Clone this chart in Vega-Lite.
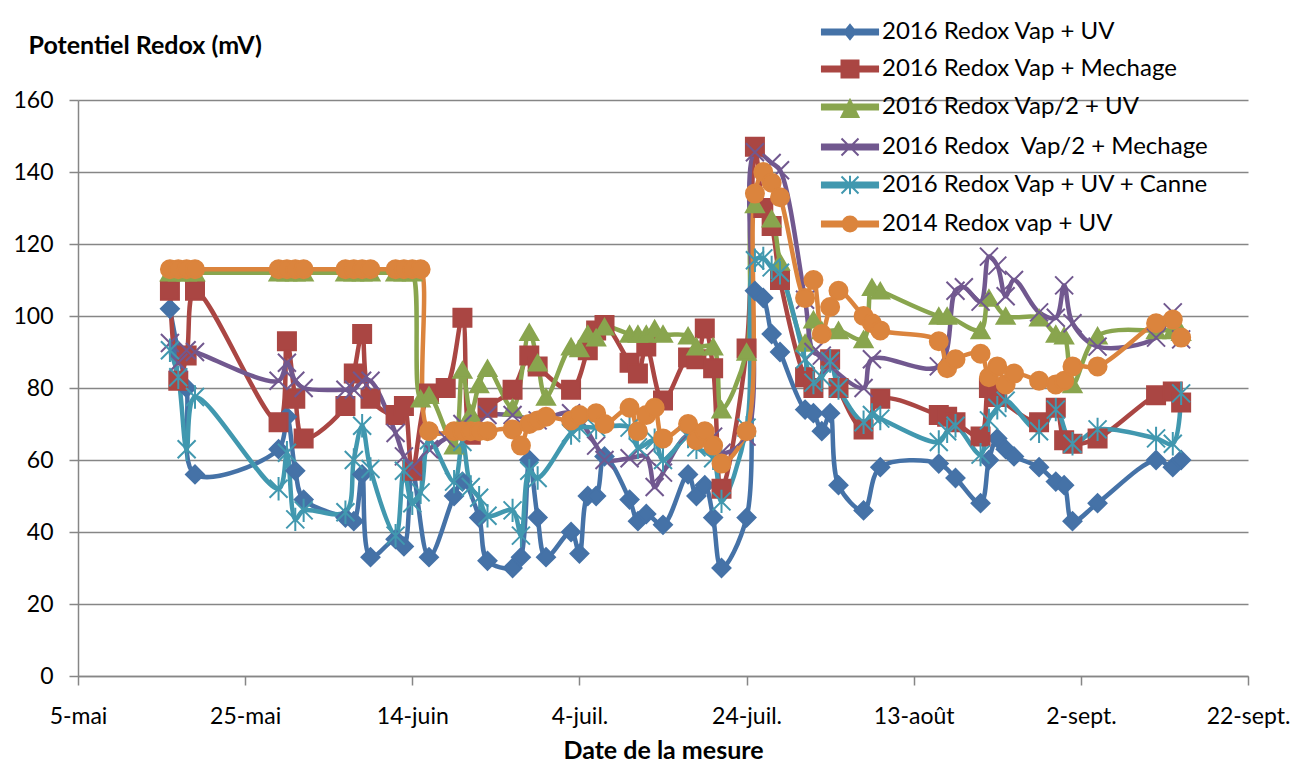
{
"$schema": "https://vega.github.io/schema/vega-lite/v6.json",
"width": 1170, "height": 576,
"autosize": {"type": "none"},
"padding": {"left": 78, "top": 100, "right": 66, "bottom": 93},
"background": "white",
"config": {
  "font": "Lato",
  "view": {"stroke": null},
  "axis": {"labelFont": "Lato", "labelFontSize": 23, "labelColor": "black", "domainColor": "#868686", "domainWidth": 1.5, "tickColor": "#868686", "tickWidth": 1.5, "tickSize": 9, "gridColor": "#868686", "gridWidth": 1.5, "titleFont": "Lato", "titleFontWeight": "bold", "titleFontSize": 25, "titleColor": "black"},
  "legend": {"labelFont": "Lato", "labelFontSize": 24, "labelColor": "black", "labelLimit": 0, "padding": 0, "rowPadding": 7, "symbolSize": 1156, "symbolStrokeWidth": 2, "symbolOpacity": 1, "labelOffset": 14}
},
"data": {"values": [
{"s":"A","d":"2016-05-16T00:00","v":102},{"s":"A","d":"2016-05-17T00:00","v":90},{"s":"A","d":"2016-05-18T00:00","v":80},{"s":"A","d":"2016-05-19T00:00","v":56},{"s":"A","d":"2016-05-29T00:00","v":63},{"s":"A","d":"2016-05-30T00:00","v":72},{"s":"A","d":"2016-05-31T00:00","v":57},{"s":"A","d":"2016-06-01T00:00","v":49},{"s":"A","d":"2016-06-06T00:00","v":44},{"s":"A","d":"2016-06-07T00:00","v":43},{"s":"A","d":"2016-06-08T00:00","v":56},{"s":"A","d":"2016-06-09T00:00","v":33},{"s":"A","d":"2016-06-12T00:00","v":38},{"s":"A","d":"2016-06-13T00:00","v":36},{"s":"A","d":"2016-06-14T00:00","v":57},{"s":"A","d":"2016-06-16T00:00","v":33},{"s":"A","d":"2016-06-19T00:00","v":50},{"s":"A","d":"2016-06-20T00:00","v":54},{"s":"A","d":"2016-06-22T00:00","v":44},{"s":"A","d":"2016-06-23T00:00","v":32},{"s":"A","d":"2016-06-26T00:00","v":30},{"s":"A","d":"2016-06-27T00:00","v":33},{"s":"A","d":"2016-06-28T00:00","v":60},{"s":"A","d":"2016-06-29T00:00","v":44},{"s":"A","d":"2016-06-30T00:00","v":33},{"s":"A","d":"2016-07-03T00:00","v":40},{"s":"A","d":"2016-07-04T00:00","v":34},{"s":"A","d":"2016-07-05T00:00","v":50},{"s":"A","d":"2016-07-06T00:00","v":50},{"s":"A","d":"2016-07-07T00:00","v":61},{"s":"A","d":"2016-07-10T00:00","v":49},{"s":"A","d":"2016-07-11T00:00","v":43},{"s":"A","d":"2016-07-12T00:00","v":45},{"s":"A","d":"2016-07-14T00:00","v":42},{"s":"A","d":"2016-07-17T00:00","v":56},{"s":"A","d":"2016-07-18T00:00","v":50},{"s":"A","d":"2016-07-19T00:00","v":53},{"s":"A","d":"2016-07-20T00:00","v":44},{"s":"A","d":"2016-07-21T00:00","v":30},{"s":"A","d":"2016-07-24T00:00","v":44},{"s":"A","d":"2016-07-25T00:00","v":107},{"s":"A","d":"2016-07-26T00:00","v":105},{"s":"A","d":"2016-07-27T00:00","v":95},{"s":"A","d":"2016-07-28T00:00","v":90},{"s":"A","d":"2016-07-31T00:00","v":74},{"s":"A","d":"2016-08-01T00:00","v":73},{"s":"A","d":"2016-08-02T00:00","v":68},{"s":"A","d":"2016-08-03T00:00","v":73},{"s":"A","d":"2016-08-04T00:00","v":53},{"s":"A","d":"2016-08-07T00:00","v":46},{"s":"A","d":"2016-08-09T00:00","v":58},{"s":"A","d":"2016-08-16T00:00","v":59},{"s":"A","d":"2016-08-18T00:00","v":55},{"s":"A","d":"2016-08-21T00:00","v":48},{"s":"A","d":"2016-08-22T00:00","v":60},{"s":"A","d":"2016-08-23T00:00","v":66},{"s":"A","d":"2016-08-24T00:00","v":63},{"s":"A","d":"2016-08-25T00:00","v":61},{"s":"A","d":"2016-08-28T00:00","v":58},{"s":"A","d":"2016-08-30T00:00","v":54},{"s":"A","d":"2016-08-31T00:00","v":53},{"s":"A","d":"2016-09-01T00:00","v":43},{"s":"A","d":"2016-09-04T00:00","v":48},{"s":"A","d":"2016-09-11T00:00","v":60},{"s":"A","d":"2016-09-13T00:00","v":58},{"s":"A","d":"2016-09-14T00:00","v":60},
{"s":"B","d":"2016-05-16T00:00","v":107},{"s":"B","d":"2016-05-17T00:00","v":82},{"s":"B","d":"2016-05-18T00:00","v":89},{"s":"B","d":"2016-05-19T00:00","v":107},{"s":"B","d":"2016-05-29T00:00","v":70.5},{"s":"B","d":"2016-05-30T00:00","v":93},{"s":"B","d":"2016-05-31T00:00","v":77},{"s":"B","d":"2016-06-01T00:00","v":66},{"s":"B","d":"2016-06-06T00:00","v":75},{"s":"B","d":"2016-06-07T00:00","v":84},{"s":"B","d":"2016-06-08T00:00","v":95},{"s":"B","d":"2016-06-09T00:00","v":77},{"s":"B","d":"2016-06-12T00:00","v":72.5},{"s":"B","d":"2016-06-13T00:00","v":75},{"s":"B","d":"2016-06-14T00:00","v":57},{"s":"B","d":"2016-06-16T00:00","v":78.5},{"s":"B","d":"2016-06-18T00:00","v":80},{"s":"B","d":"2016-06-20T00:00","v":99.5},{"s":"B","d":"2016-06-21T00:00","v":67},{"s":"B","d":"2016-06-23T00:00","v":74.5},{"s":"B","d":"2016-06-26T00:00","v":79.5},{"s":"B","d":"2016-06-28T00:00","v":89},{"s":"B","d":"2016-06-29T00:00","v":86},{"s":"B","d":"2016-07-03T00:00","v":79.5},{"s":"B","d":"2016-07-05T00:00","v":90.5},{"s":"B","d":"2016-07-06T00:00","v":96},{"s":"B","d":"2016-07-07T00:00","v":97.5},{"s":"B","d":"2016-07-10T00:00","v":87},{"s":"B","d":"2016-07-11T00:00","v":84},{"s":"B","d":"2016-07-12T00:00","v":91.5},{"s":"B","d":"2016-07-14T00:00","v":76.5},{"s":"B","d":"2016-07-17T00:00","v":88.5},{"s":"B","d":"2016-07-18T00:00","v":88},{"s":"B","d":"2016-07-19T00:00","v":96.5},{"s":"B","d":"2016-07-20T00:00","v":85.5},{"s":"B","d":"2016-07-21T00:00","v":52},{"s":"B","d":"2016-07-24T00:00","v":91},{"s":"B","d":"2016-07-25T00:00","v":147},{"s":"B","d":"2016-07-26T00:00","v":130},{"s":"B","d":"2016-07-27T00:00","v":125},{"s":"B","d":"2016-07-28T00:00","v":110},{"s":"B","d":"2016-07-31T00:00","v":83},{"s":"B","d":"2016-08-01T00:00","v":80},{"s":"B","d":"2016-08-03T00:00","v":88},{"s":"B","d":"2016-08-04T00:00","v":80},{"s":"B","d":"2016-08-07T00:00","v":68.5},{"s":"B","d":"2016-08-09T00:00","v":77},{"s":"B","d":"2016-08-16T00:00","v":72.5},{"s":"B","d":"2016-08-17T00:00","v":72},{"s":"B","d":"2016-08-18T00:00","v":70.5},{"s":"B","d":"2016-08-21T00:00","v":66.5},{"s":"B","d":"2016-08-22T00:00","v":80},{"s":"B","d":"2016-08-23T00:00","v":77.5},{"s":"B","d":"2016-08-28T00:00","v":70.5},{"s":"B","d":"2016-08-30T00:00","v":74.5},{"s":"B","d":"2016-08-31T00:00","v":65.5},{"s":"B","d":"2016-09-01T00:00","v":64.5},{"s":"B","d":"2016-09-04T00:00","v":66},{"s":"B","d":"2016-09-11T00:00","v":78},{"s":"B","d":"2016-09-13T00:00","v":79},{"s":"B","d":"2016-09-14T00:00","v":76},
{"s":"C","d":"2016-05-16T00:00","v":112},{"s":"C","d":"2016-05-17T00:00","v":112},{"s":"C","d":"2016-05-18T00:00","v":112},{"s":"C","d":"2016-05-19T00:00","v":112},{"s":"C","d":"2016-05-29T00:00","v":112},{"s":"C","d":"2016-05-30T00:00","v":112},{"s":"C","d":"2016-05-31T00:00","v":112},{"s":"C","d":"2016-06-01T00:00","v":112},{"s":"C","d":"2016-06-06T00:00","v":112},{"s":"C","d":"2016-06-07T00:00","v":112},{"s":"C","d":"2016-06-08T00:00","v":112},{"s":"C","d":"2016-06-09T00:00","v":112},{"s":"C","d":"2016-06-12T00:00","v":112},{"s":"C","d":"2016-06-13T00:00","v":112},{"s":"C","d":"2016-06-14T00:00","v":112},{"s":"C","d":"2016-06-15T00:00","v":77},{"s":"C","d":"2016-06-16T00:00","v":78},{"s":"C","d":"2016-06-19T00:00","v":64},{"s":"C","d":"2016-06-20T00:00","v":85},{"s":"C","d":"2016-06-21T00:00","v":73},{"s":"C","d":"2016-06-22T00:00","v":81},{"s":"C","d":"2016-06-23T00:00","v":85.5},{"s":"C","d":"2016-06-26T00:00","v":74.5},{"s":"C","d":"2016-06-28T00:00","v":95.5},{"s":"C","d":"2016-06-29T00:00","v":87},{"s":"C","d":"2016-06-30T00:00","v":77.5},{"s":"C","d":"2016-07-03T00:00","v":91.5},{"s":"C","d":"2016-07-04T00:00","v":91},{"s":"C","d":"2016-07-05T00:00","v":95},{"s":"C","d":"2016-07-06T00:00","v":94},{"s":"C","d":"2016-07-07T00:00","v":97},{"s":"C","d":"2016-07-10T00:00","v":95},{"s":"C","d":"2016-07-11T00:00","v":95},{"s":"C","d":"2016-07-12T00:00","v":95},{"s":"C","d":"2016-07-13T00:00","v":96.5},{"s":"C","d":"2016-07-14T00:00","v":95},{"s":"C","d":"2016-07-17T00:00","v":94.5},{"s":"C","d":"2016-07-18T00:00","v":91.5},{"s":"C","d":"2016-07-20T00:00","v":91.5},{"s":"C","d":"2016-07-21T00:00","v":74},{"s":"C","d":"2016-07-24T00:00","v":90},{"s":"C","d":"2016-07-25T00:00","v":131},{"s":"C","d":"2016-07-27T00:00","v":127},{"s":"C","d":"2016-07-28T00:00","v":115},{"s":"C","d":"2016-07-31T00:00","v":92.5},{"s":"C","d":"2016-08-01T00:00","v":99},{"s":"C","d":"2016-08-02T00:00","v":96},{"s":"C","d":"2016-08-04T00:00","v":96},{"s":"C","d":"2016-08-07T00:00","v":93.5},{"s":"C","d":"2016-08-08T00:00","v":108},{"s":"C","d":"2016-08-09T00:00","v":107},{"s":"C","d":"2016-08-16T00:00","v":100},{"s":"C","d":"2016-08-17T00:00","v":100},{"s":"C","d":"2016-08-21T00:00","v":96},{"s":"C","d":"2016-08-22T00:00","v":105},{"s":"C","d":"2016-08-24T00:00","v":100},{"s":"C","d":"2016-08-28T00:00","v":99.5},{"s":"C","d":"2016-08-30T00:00","v":95},{"s":"C","d":"2016-08-31T00:00","v":94.5},{"s":"C","d":"2016-09-01T00:00","v":81},{"s":"C","d":"2016-09-04T00:00","v":94.5},{"s":"C","d":"2016-09-11T00:00","v":96},{"s":"C","d":"2016-09-13T00:00","v":96},{"s":"C","d":"2016-09-14T00:00","v":95.5},
{"s":"D","d":"2016-05-16T00:00","v":92.5},{"s":"D","d":"2016-05-17T00:00","v":87},{"s":"D","d":"2016-05-18T00:00","v":90.5},{"s":"D","d":"2016-05-19T00:00","v":90},{"s":"D","d":"2016-05-29T00:00","v":82},{"s":"D","d":"2016-05-30T00:00","v":87},{"s":"D","d":"2016-05-31T00:00","v":82},{"s":"D","d":"2016-06-01T00:00","v":80},{"s":"D","d":"2016-06-06T00:00","v":79.5},{"s":"D","d":"2016-06-07T00:00","v":79.5},{"s":"D","d":"2016-06-08T00:00","v":82},{"s":"D","d":"2016-06-09T00:00","v":82},{"s":"D","d":"2016-06-12T00:00","v":67.5},{"s":"D","d":"2016-06-13T00:00","v":61},{"s":"D","d":"2016-06-14T00:00","v":58},{"s":"D","d":"2016-06-16T00:00","v":63},{"s":"D","d":"2016-06-18T00:00","v":66},{"s":"D","d":"2016-06-20T00:00","v":70},{"s":"D","d":"2016-06-23T00:00","v":72.5},{"s":"D","d":"2016-06-26T00:00","v":72.5},{"s":"D","d":"2016-06-29T00:00","v":71},{"s":"D","d":"2016-07-03T00:00","v":73},{"s":"D","d":"2016-07-06T00:00","v":64},{"s":"D","d":"2016-07-07T00:00","v":60},{"s":"D","d":"2016-07-10T00:00","v":60.5},{"s":"D","d":"2016-07-12T00:00","v":61},{"s":"D","d":"2016-07-13T00:00","v":52.5},{"s":"D","d":"2016-07-14T00:00","v":56.5},{"s":"D","d":"2016-07-17T00:00","v":67},{"s":"D","d":"2016-07-20T00:00","v":66.5},{"s":"D","d":"2016-07-21T00:00","v":62},{"s":"D","d":"2016-07-24T00:00","v":66.5},{"s":"D","d":"2016-07-25T00:00","v":145.5},{"s":"D","d":"2016-07-27T00:00","v":142.5},{"s":"D","d":"2016-07-28T00:00","v":140.5},{"s":"D","d":"2016-07-31T00:00","v":104.5},{"s":"D","d":"2016-08-01T00:00","v":90},{"s":"D","d":"2016-08-02T00:00","v":89},{"s":"D","d":"2016-08-03T00:00","v":86},{"s":"D","d":"2016-08-07T00:00","v":80},{"s":"D","d":"2016-08-08T00:00","v":88},{"s":"D","d":"2016-08-16T00:00","v":86},{"s":"D","d":"2016-08-18T00:00","v":107},{"s":"D","d":"2016-08-19T00:00","v":108},{"s":"D","d":"2016-08-21T00:00","v":104},{"s":"D","d":"2016-08-22T00:00","v":116.5},{"s":"D","d":"2016-08-23T00:00","v":114},{"s":"D","d":"2016-08-24T00:00","v":105.5},{"s":"D","d":"2016-08-25T00:00","v":110},{"s":"D","d":"2016-08-28T00:00","v":101},{"s":"D","d":"2016-08-30T00:00","v":99.5},{"s":"D","d":"2016-08-31T00:00","v":108.5},{"s":"D","d":"2016-09-01T00:00","v":98},{"s":"D","d":"2016-09-04T00:00","v":91.5},{"s":"D","d":"2016-09-11T00:00","v":94},{"s":"D","d":"2016-09-13T00:00","v":101},{"s":"D","d":"2016-09-14T00:00","v":93.5},
{"s":"E","d":"2016-05-16T00:00","v":90.5},{"s":"E","d":"2016-05-17T00:00","v":83},{"s":"E","d":"2016-05-18T00:00","v":63},{"s":"E","d":"2016-05-19T00:00","v":77.5},{"s":"E","d":"2016-05-29T00:00","v":52},{"s":"E","d":"2016-05-30T00:00","v":62},{"s":"E","d":"2016-05-31T00:00","v":43.5},{"s":"E","d":"2016-06-01T00:00","v":46},{"s":"E","d":"2016-06-06T00:00","v":45.5},{"s":"E","d":"2016-06-07T00:00","v":60},{"s":"E","d":"2016-06-08T00:00","v":69.5},{"s":"E","d":"2016-06-09T00:00","v":57.5},{"s":"E","d":"2016-06-12T00:00","v":39},{"s":"E","d":"2016-06-13T00:00","v":57},{"s":"E","d":"2016-06-14T00:00","v":48},{"s":"E","d":"2016-06-15T00:00","v":51},{"s":"E","d":"2016-06-16T00:00","v":65.5},{"s":"E","d":"2016-06-19T00:00","v":54},{"s":"E","d":"2016-06-20T00:00","v":65},{"s":"E","d":"2016-06-21T00:00","v":52.5},{"s":"E","d":"2016-06-22T00:00","v":49.5},{"s":"E","d":"2016-06-23T00:00","v":44.5},{"s":"E","d":"2016-06-26T00:00","v":46},{"s":"E","d":"2016-06-27T00:00","v":39},{"s":"E","d":"2016-06-28T00:00","v":57},{"s":"E","d":"2016-06-29T00:00","v":55},{"s":"E","d":"2016-07-03T00:00","v":67.5},{"s":"E","d":"2016-07-04T00:00","v":69},{"s":"E","d":"2016-07-06T00:00","v":69},{"s":"E","d":"2016-07-10T00:00","v":69},{"s":"E","d":"2016-07-11T00:00","v":63.5},{"s":"E","d":"2016-07-13T00:00","v":65.5},{"s":"E","d":"2016-07-14T00:00","v":60},{"s":"E","d":"2016-07-17T00:00","v":66.5},{"s":"E","d":"2016-07-18T00:00","v":63.5},{"s":"E","d":"2016-07-20T00:00","v":60.5},{"s":"E","d":"2016-07-21T00:00","v":48.5},{"s":"E","d":"2016-07-24T00:00","v":69},{"s":"E","d":"2016-07-25T00:00","v":115.5},{"s":"E","d":"2016-07-26T00:00","v":116},{"s":"E","d":"2016-07-27T00:00","v":113.5},{"s":"E","d":"2016-07-28T00:00","v":112},{"s":"E","d":"2016-07-31T00:00","v":88},{"s":"E","d":"2016-08-01T00:00","v":81.5},{"s":"E","d":"2016-08-02T00:00","v":83},{"s":"E","d":"2016-08-03T00:00","v":87.5},{"s":"E","d":"2016-08-04T00:00","v":80},{"s":"E","d":"2016-08-07T00:00","v":70.5},{"s":"E","d":"2016-08-08T00:00","v":72.5},{"s":"E","d":"2016-08-09T00:00","v":71.5},{"s":"E","d":"2016-08-16T00:00","v":65},{"s":"E","d":"2016-08-17T00:00","v":68},{"s":"E","d":"2016-08-18T00:00","v":69.5},{"s":"E","d":"2016-08-21T00:00","v":61.5},{"s":"E","d":"2016-08-22T00:00","v":71},{"s":"E","d":"2016-08-23T00:00","v":74.5},{"s":"E","d":"2016-08-24T00:00","v":76.5},{"s":"E","d":"2016-08-28T00:00","v":68},{"s":"E","d":"2016-08-30T00:00","v":74},{"s":"E","d":"2016-09-01T00:00","v":64.5},{"s":"E","d":"2016-09-04T00:00","v":68.5},{"s":"E","d":"2016-09-11T00:00","v":66},{"s":"E","d":"2016-09-13T00:00","v":64.5},{"s":"E","d":"2016-09-14T00:00","v":78.5},
{"s":"F","d":"2016-05-16T00:00","v":113},{"s":"F","d":"2016-05-17T00:00","v":113},{"s":"F","d":"2016-05-18T00:00","v":113},{"s":"F","d":"2016-05-19T00:00","v":113},{"s":"F","d":"2016-05-29T00:00","v":113},{"s":"F","d":"2016-05-30T00:00","v":113},{"s":"F","d":"2016-05-31T00:00","v":113},{"s":"F","d":"2016-06-01T00:00","v":113},{"s":"F","d":"2016-06-06T00:00","v":113},{"s":"F","d":"2016-06-07T00:00","v":113},{"s":"F","d":"2016-06-08T00:00","v":113},{"s":"F","d":"2016-06-09T00:00","v":113},{"s":"F","d":"2016-06-12T00:00","v":113},{"s":"F","d":"2016-06-13T00:00","v":113},{"s":"F","d":"2016-06-14T00:00","v":113},{"s":"F","d":"2016-06-15T00:00","v":113},{"s":"F","d":"2016-06-16T00:00","v":68},{"s":"F","d":"2016-06-19T00:00","v":68},{"s":"F","d":"2016-06-20T00:00","v":68},{"s":"F","d":"2016-06-21T00:00","v":68},{"s":"F","d":"2016-06-22T00:00","v":68},{"s":"F","d":"2016-06-23T00:00","v":68},{"s":"F","d":"2016-06-26T00:00","v":68.5},{"s":"F","d":"2016-06-27T00:00","v":64},{"s":"F","d":"2016-06-28T00:00","v":70},{"s":"F","d":"2016-06-29T00:00","v":71},{"s":"F","d":"2016-06-30T00:00","v":72},{"s":"F","d":"2016-07-03T00:00","v":71},{"s":"F","d":"2016-07-04T00:00","v":72.5},{"s":"F","d":"2016-07-06T00:00","v":73},{"s":"F","d":"2016-07-07T00:00","v":70},{"s":"F","d":"2016-07-10T00:00","v":74.5},{"s":"F","d":"2016-07-11T00:00","v":68},{"s":"F","d":"2016-07-12T00:00","v":72.5},{"s":"F","d":"2016-07-13T00:00","v":74.5},{"s":"F","d":"2016-07-14T00:00","v":66},{"s":"F","d":"2016-07-17T00:00","v":70},{"s":"F","d":"2016-07-18T00:00","v":65.5},{"s":"F","d":"2016-07-19T00:00","v":68},{"s":"F","d":"2016-07-20T00:00","v":64},{"s":"F","d":"2016-07-21T00:00","v":59},{"s":"F","d":"2016-07-24T00:00","v":68},{"s":"F","d":"2016-07-25T00:00","v":134},{"s":"F","d":"2016-07-26T00:00","v":140},{"s":"F","d":"2016-07-27T00:00","v":137},{"s":"F","d":"2016-07-28T00:00","v":133},{"s":"F","d":"2016-07-31T00:00","v":105},{"s":"F","d":"2016-08-01T00:00","v":110},{"s":"F","d":"2016-08-02T00:00","v":95},{"s":"F","d":"2016-08-03T00:00","v":102.5},{"s":"F","d":"2016-08-04T00:00","v":107},{"s":"F","d":"2016-08-07T00:00","v":100},{"s":"F","d":"2016-08-08T00:00","v":98},{"s":"F","d":"2016-08-09T00:00","v":96},{"s":"F","d":"2016-08-16T00:00","v":93},{"s":"F","d":"2016-08-17T00:00","v":85.5},{"s":"F","d":"2016-08-18T00:00","v":88},{"s":"F","d":"2016-08-21T00:00","v":89.5},{"s":"F","d":"2016-08-22T00:00","v":83},{"s":"F","d":"2016-08-23T00:00","v":86},{"s":"F","d":"2016-08-24T00:00","v":81},{"s":"F","d":"2016-08-25T00:00","v":84},{"s":"F","d":"2016-08-28T00:00","v":82},{"s":"F","d":"2016-08-30T00:00","v":81},{"s":"F","d":"2016-08-31T00:00","v":82},{"s":"F","d":"2016-09-01T00:00","v":86},{"s":"F","d":"2016-09-04T00:00","v":86},{"s":"F","d":"2016-09-11T00:00","v":98},{"s":"F","d":"2016-09-13T00:00","v":99},{"s":"F","d":"2016-09-14T00:00","v":94}
]},
"transform": [
  {"lookup": "s", "from": {"data": {"values": [
    {"s": "A", "series": "2016 Redox Vap + UV"},
    {"s": "B", "series": "2016 Redox Vap + Mechage"},
    {"s": "C", "series": "2016 Redox Vap/2 + UV"},
    {"s": "D", "series": "2016 Redox\u00a0 Vap/2 + Mechage"},
    {"s": "E", "series": "2016 Redox Vap + UV + Canne"},
    {"s": "F", "series": "2014 Redox vap + UV"}
  ]}, "key": "s", "fields": ["series"]}}
],
"encoding": {
  "x": {"field": "d", "type": "temporal",
    "scale": {"domain": [{"year": 2016, "month": 5, "date": 5}, {"year": 2016, "month": 9, "date": 22}]},
    "axis": {"values": [{"year": 2016, "month": 5, "date": 5}, {"year": 2016, "month": 5, "date": 25}, {"year": 2016, "month": 6, "date": 14}, {"year": 2016, "month": 7, "date": 4}, {"year": 2016, "month": 7, "date": 24}, {"year": 2016, "month": 8, "date": 13}, {"year": 2016, "month": 9, "date": 2}, {"year": 2016, "month": 9, "date": 22}],
      "labelExpr": "date(datum.value) + '-' + ['janv.','févr.','mars','avr.','mai','juin','juil.','août','sept.','oct.','nov.','déc.'][month(datum.value)]",
      "grid": false, "labelPadding": 20, "labelFlush": false, "labelOverlap": false,
      "title": "Date de la mesure", "titlePadding": 10}},
  "y": {"field": "v", "type": "quantitative",
    "scale": {"domain": [0, 160]},
    "axis": {"values": [0, 20, 40, 60, 80, 100, 120, 140, 160], "grid": true, "labelPadding": 16,
      "title": "Potentiel Redox (mV)", "titleAngle": 0, "titleAlign": "left", "titleBaseline": "middle", "titleX": -50, "titleY": -55}}
},
"layer": [
  {"mark": {"type": "line", "strokeWidth": 4.5, "interpolate": "catmull-rom"},
   "encoding": {"color": {"field": "series", "type": "nominal",
     "scale": {"domain": ["2016 Redox Vap + UV", "2016 Redox Vap + Mechage", "2016 Redox Vap/2 + UV", "2016 Redox\u00a0 Vap/2 + Mechage", "2016 Redox Vap + UV + Canne", "2014 Redox vap + UV"],
               "range": ["#4572A7", "#AA4643", "#89A54E", "#71588F", "#4198AF", "#DB843D"]}, "legend": null}}},
  {"mark": {"type": "point", "filled": true, "size": 324, "strokeWidth": 2, "opacity": 1},
   "encoding": {
     "fill": {"field": "series", "type": "nominal", "scale": {"domain": ["2016 Redox Vap + UV", "2016 Redox Vap + Mechage", "2016 Redox Vap/2 + UV", "2016 Redox\u00a0 Vap/2 + Mechage", "2016 Redox Vap + UV + Canne", "2014 Redox vap + UV"], "range": ["#4572A7", "#AA4643", "#89A54E", "#71588F", "#4198AF", "#DB843D"]}, "legend": null},
     "stroke": {"field": "series", "type": "nominal", "scale": {"domain": ["2016 Redox Vap + UV", "2016 Redox Vap + Mechage", "2016 Redox Vap/2 + UV", "2016 Redox\u00a0 Vap/2 + Mechage", "2016 Redox Vap + UV + Canne", "2014 Redox vap + UV"], "range": ["#4572A7", "#AA4643", "#89A54E", "#71588F", "#4198AF", "#DB843D"]}, "legend": null},
     "shape": {"field": "series", "type": "nominal", "scale": {"domain": ["2016 Redox Vap + UV", "2016 Redox Vap + Mechage", "2016 Redox Vap/2 + UV", "2016 Redox\u00a0 Vap/2 + Mechage", "2016 Redox Vap + UV + Canne", "2014 Redox vap + UV"], "range": ["diamond", "square", "triangle-up", "M-1,-1L1,1M-1,1L1,-1", "M-1,-1L1,1M-1,1L1,-1M0,-1.3V1.3", "circle"]}, "legend": null}
   }},
  {"transform": [{"filter": "false"}],
   "mark": {"type": "point", "filled": true, "opacity": 1},
   "encoding": {
     "fill": {"field": "series", "type": "nominal", "scale": {"domain": ["2016 Redox Vap + UV", "2016 Redox Vap + Mechage", "2016 Redox Vap/2 + UV", "2016 Redox\u00a0 Vap/2 + Mechage", "2016 Redox Vap + UV + Canne", "2014 Redox vap + UV"], "range": ["#4572A7", "#AA4643", "#89A54E", "#71588F", "#4198AF", "#DB843D"]},
       "legend": {"orient": "none", "legendX": 754, "legendY": -86, "title": null}},
     "stroke": {"field": "series", "type": "nominal", "scale": {"domain": ["2016 Redox Vap + UV", "2016 Redox Vap + Mechage", "2016 Redox Vap/2 + UV", "2016 Redox\u00a0 Vap/2 + Mechage", "2016 Redox Vap + UV + Canne", "2014 Redox vap + UV"], "range": ["#4572A7", "#AA4643", "#89A54E", "#71588F", "#4198AF", "#DB843D"]},
       "legend": {"orient": "none", "legendX": 754, "legendY": -86, "title": null}},
     "shape": {"field": "series", "type": "nominal", "scale": {"domain": ["2016 Redox Vap + UV", "2016 Redox Vap + Mechage", "2016 Redox Vap/2 + UV", "2016 Redox\u00a0 Vap/2 + Mechage", "2016 Redox Vap + UV + Canne", "2014 Redox vap + UV"],
       "range": [
         "M-1.65,-0.14H1.65V0.14H-1.65ZM0,-0.42L0.34,0L0,0.42L-0.34,0Z",
         "M-1.65,-0.14H1.65V0.14H-1.65ZM-0.5,-0.5H0.5V0.5H-0.5Z",
         "M-1.65,-0.14H1.65V0.14H-1.65ZM0,-0.41L0.5,0.59H-0.5Z",
         "M-1.65,-0.14H1.65V0.14H-1.65ZM-0.5,-0.5L0.5,0.5M-0.5,0.5L0.5,-0.5",
         "M-1.65,-0.14H1.65V0.14H-1.65ZM-0.5,-0.5L0.5,0.5M-0.5,0.5L0.5,-0.5M0,-0.55V0.55",
         "M-1.65,-0.14H1.65V0.14H-1.65ZM-0.44,0A0.44,0.44,0,1,1,0.44,0A0.44,0.44,0,1,1,-0.44,0Z"
       ]},
       "legend": {"orient": "none", "legendX": 754, "legendY": -86, "title": null}}
   }}
],
"resolve": {"scale": {"shape": "independent", "fill": "independent", "stroke": "independent"}}
}
